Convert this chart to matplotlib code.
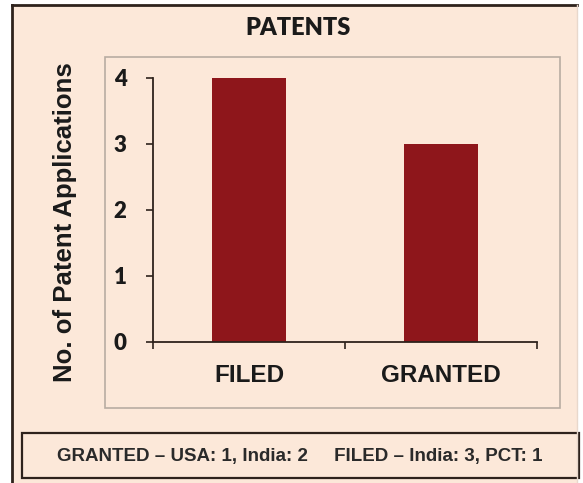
import numpy as np
import matplotlib.pyplot as plt
from matplotlib.patches import Rectangle
from matplotlib.lines import Line2D

# %% Data
categories = ['FILED', 'GRANTED']
counts = [4, 3]
y_ticks = [0, 1, 2, 3, 4]
title = 'PATENTS'
y_label = 'No. of Patent Applications'
note = 'GRANTED \u2013 USA: 1, India: 2     FILED \u2013 India: 3, PCT: 1'

# %% Colours
bg = '#fce8d9'
bar_color = '#8e161b'
dark = '#2e221c'

# %% Figure
fig = plt.figure(figsize=(5.83, 4.83), dpi=100)
fig.patch.set_facecolor('white')

W, H = 583, 483


def fx(px):
    return px / W


def fy(py):
    return 1 - py / H


# panel background + outer frame (left and top dark edges)
fig.patches.append(Rectangle((fx(12), 0), fx(577) - fx(12), fy(5), transform=fig.transFigure,
                             facecolor=bg, edgecolor='none', zorder=0))
fig.lines.append(Line2D([fx(12), fx(12)], [0, fy(5)], transform=fig.transFigure, color=dark, lw=2))
fig.lines.append(Line2D([fx(12), fx(577)], [fy(5), fy(5)], transform=fig.transFigure, color=dark, lw=2))
fig.lines.append(Line2D([fx(577), fx(577)], [0, fy(5)], transform=fig.transFigure, color='#e8d8cc', lw=1))

# plot area box
fig.patches.append(Rectangle((fx(105), fy(408)), fx(560) - fx(105), fy(57) - fy(408),
                             transform=fig.transFigure, facecolor=bg, edgecolor='#b8aca2', lw=1.2, zorder=1))

# note box
fig.patches.append(Rectangle((fx(22), fy(478)), fx(579) - fx(22), fy(433) - fy(478),
                             transform=fig.transFigure, facecolor=bg, edgecolor=dark, lw=1.6, zorder=1))
fig.text(fx(300), fy(456), note, ha='center', va='center', fontsize=13.5, fontweight='bold',
         family='Liberation Sans', color='#2a2a2a', zorder=3)

fig.text(fx(298), fy(28), title, ha='center', va='center', fontsize=17, fontweight='heavy',
         family='Lato', color='#1a1a1a')

# %% Axes
ax = fig.add_axes([fx(153), fy(342), fx(537) - fx(153), fy(78) - fy(342)])
ax.set_facecolor('none')
ax.set_zorder(2)

x = np.arange(len(categories))
ax.bar(x, counts, width=0.39, color=bar_color)

ax.set_xlim(-0.5, len(categories) - 0.5)
ax.set_ylim(0, 4)
ax.set_yticks(y_ticks)
ax.set_yticklabels([str(t) for t in y_ticks], fontsize=16, fontweight='heavy', family='Lato', color='#1a1a1a')

ax.set_xticks(np.arange(-0.5, len(categories), 1.0))
ax.set_xticklabels([])
ax.set_xticks(x, minor=True)
ax.set_xticklabels(categories, minor=True, fontsize=17.5, fontweight='bold', family='Liberation Sans',
                   color='#1a1a1a')
ax.tick_params(axis='x', which='minor', length=0, pad=16)
ax.tick_params(axis='x', which='major', length=5, width=1.2, color=dark, direction='out')
ax.tick_params(axis='y', length=5, width=1.2, color=dark, direction='out', pad=14)

for side in ['top', 'right']:
    ax.spines[side].set_visible(False)
for side in ['left', 'bottom']:
    ax.spines[side].set_color(dark)
    ax.spines[side].set_linewidth(1.3)

fig.text(fx(65), fy(222), y_label, rotation=90, ha='center', va='center', fontsize=18.5,
         fontweight='bold', family='Liberation Sans', color='#1a1a1a')

fig.savefig('out.png', dpi=100, facecolor=fig.get_facecolor())
